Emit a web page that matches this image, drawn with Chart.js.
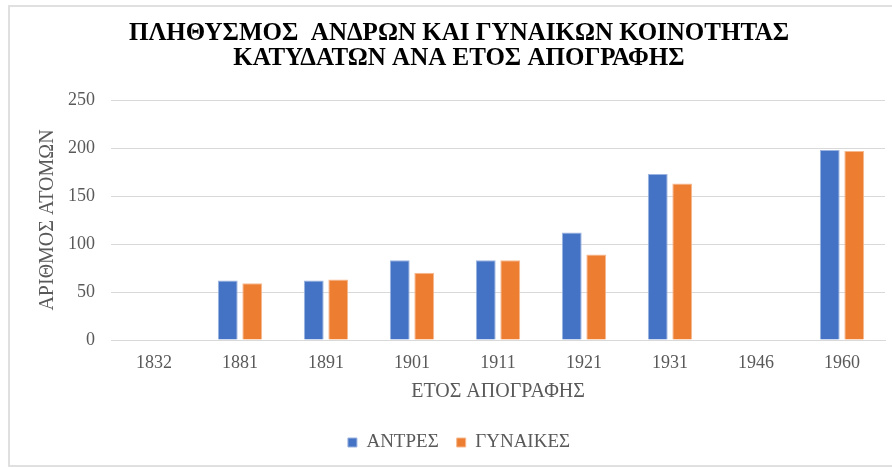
<!DOCTYPE html>
<html>
<head>
<meta charset="utf-8">
<script src="https://cdn.jsdelivr.net/npm/chart.js@4.4.1/dist/chart.umd.min.js"></script>
<style>
  html, body { margin: 0; padding: 0; background: #fff; }
  #wrap { position: relative; width: 892px; height: 467px; overflow: hidden; }
  #frame { position: absolute; left: 8px; top: 5px; width: 900px; height: 462px; border: 2px solid #e0e0e0; box-sizing: border-box; }
  canvas { position: absolute; left: 0; top: 0; }
</style>
</head>
<body>
<div id="wrap">
  <div id="frame"></div>
  <canvas id="chart" width="892" height="467"></canvas>
</div>
<script>
// census years and population per sex
let years = ['1832', '1881', '1891', '1901', '1911', '1921', '1931', '1946', '1960']
let men = [null, 62, 62, 83, 83, 112, 173, null, 198]
let women = [null, 59, 63, 70, 83, 89, 163, null, 197]
let yTicks = [0, 50, 100, 150, 200, 250]

let serif = "'Liberation Serif', 'Times New Roman', serif"
let grey = '#595959'

let data = {
  labels: years,
  datasets: [{
    label: 'ΑΝΤΡΕΣ',
    data: men,
    backgroundColor: '#4472C4',
    borderColor: '#9bb3e0',
    borderWidth: 1,
  }, {
    label: 'ΓΥΝΑΙΚΕΣ',
    data: women,
    backgroundColor: '#ED7D31',
    borderColor: '#f6b98f',
    borderWidth: 1,
  }]
}

const config = {
  type: 'bar',
  data: data,
  options: {
    responsive: false,
    animation: false,
    devicePixelRatio: 1,
    categoryPercentage: 0.57,
    barPercentage: 0.81,
    layout: { padding: { left: 33, right: 7, top: 0, bottom: 5 } },
    scales: {
      x: {
        afterFit: (s) => { s.height = 75 },
        grid: { display: false },
        border: { display: true, color: '#d9d9d9', width: 1 },
        ticks: { color: grey, font: { family: serif, size: 18 }, padding: 4 },
        title: {
          display: true,
          text: 'ΕΤΟΣ ΑΠΟΓΡΑΦΗΣ',
          color: grey,
          font: { family: serif, size: 20 },
          padding: { top: 0, bottom: 11 }
        }
      },
      y: {
        min: 0,
        max: 250,
        afterFit: (s) => { s.width = 78 },
        afterBuildTicks: (s) => { s.ticks = yTicks.map(v => ({ value: v })) },
        grid: { color: '#d9d9d9', lineWidth: 1, drawTicks: false },
        border: { display: false },
        ticks: { color: grey, font: { family: serif, size: 18 }, padding: 16 },
        title: {
          display: true,
          text: 'ΑΡΙΘΜΟΣ ΑΤΟΜΩΝ',
          color: grey,
          font: { family: serif, size: 20 },
          padding: { top: 3, bottom: 0 }
        }
      }
    },
    plugins: {
      title: {
        display: true,
        text: ['ΠΛΗΘΥΣΜΟΣ  ΑΝΔΡΩΝ ΚΑΙ ΓΥΝΑΙΚΩΝ ΚΟΙΝΟΤΗΤΑΣ', 'ΚΑΤΥΔΑΤΩΝ ΑΝΑ ΕΤΟΣ ΑΠΟΓΡΑΦΗΣ'],
        color: '#000',
        font: { family: serif, size: 25, weight: 'bold', lineHeight: 1.0 },
        padding: { top: 21, bottom: 29 }
      },
      legend: {
        position: 'bottom',
        labels: {
          color: grey,
          font: { family: serif, size: 19 },
          boxWidth: 9,
          boxHeight: 9,
          padding: 18
        }
      },
      tooltip: { enabled: false }
    }
  }
}

const chart = new Chart(document.getElementById('chart'), config)
</script>
</body>
</html>
